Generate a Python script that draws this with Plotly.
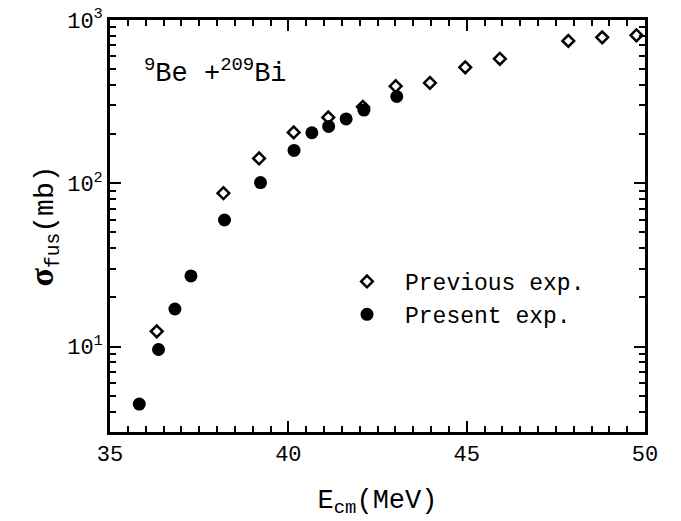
import plotly.graph_objects as go
import numpy as np

# Data
prev_E = [36.31, 38.18, 39.18, 40.15, 41.12, 42.09, 43.01, 43.97, 44.96, 45.93, 47.85, 48.80, 49.76]
prev_sigma = [12.4, 87, 142, 205, 253, 294, 393, 412, 513, 579, 745, 783, 806]

pres_E = [35.82, 36.36, 36.82, 37.27, 38.21, 39.22, 40.16, 40.66, 41.13, 41.62, 42.12, 43.04]
pres_sigma = [4.45, 9.6, 17.0, 27.1, 59.6, 101, 159, 204, 223, 248, 281, 340]

x_ticks = [35, 40, 45, 50]
x_ticklabels = ["35", "40", "45", "50"]
y_ticks = [10, 100, 1000]
y_ticklabels = ["10<sup>1</sup>", "10<sup>2</sup>", "10<sup>3</sup>"]

FONT = "Liberation Mono, Courier New, monospace"

fig = go.Figure()
fig.add_trace(go.Scatter(
    x=prev_E, y=prev_sigma, mode="markers", name="Previous exp.",
    marker=dict(symbol="diamond-open", size=9, color="black", line=dict(width=2.5, color="black")),
))
fig.add_trace(go.Scatter(
    x=pres_E, y=pres_sigma, mode="markers", name="Present exp.",
    marker=dict(symbol="circle", size=13, color="black"),
))

x_minor = [v for v in np.arange(35, 50.01, 0.5) if v not in x_ticks]
y_minor = [m * 10 ** d for d in range(0, 3) for m in range(2, 10) if 3 <= m * 10 ** d < 1000]

axis_common = dict(
    showline=True, linecolor="black", linewidth=2.5, mirror="ticks",
    ticks="inside", ticklen=11, tickwidth=2, tickcolor="black",
    showgrid=False, zeroline=False, automargin=False, ticklabeloverflow="allow",
    tickfont=dict(family=FONT, size=22, color="black"),
)

fig.update_layout(
    template="none",
    width=681, height=521,
    margin=dict(l=110, r=36, t=20, b=89),
    paper_bgcolor="white", plot_bgcolor="white",
    font=dict(family=FONT, color="black"),
    xaxis=dict(
        range=[35, 50], tickvals=x_ticks, ticktext=x_ticklabels,
        minor=dict(tickvals=x_minor, ticks="inside", ticklen=6, tickwidth=2, tickcolor="black"),
        title=dict(text="E<sub>cm</sub>(MeV)", font=dict(family=FONT, size=27, color="black"), standoff=22),
        **axis_common,
    ),
    yaxis=dict(
        type="log", range=[np.log10(3), 3], tickvals=y_ticks, ticktext=y_ticklabels,
        minor=dict(tickvals=y_minor, ticks="inside", ticklen=6, tickwidth=2, tickcolor="black"),
        title=dict(
            text="<span style='font-family:Liberation Serif;font-weight:bold;font-size:34px'>σ</span><sub>fus</sub>(mb)",
            font=dict(family=FONT, size=28, color="black"), standoff=6,
        ),
        **axis_common,
    ),
    showlegend=True,
    legend=dict(
        x=(329 - 110) / 535, y=(432 - 260) / 412, xanchor="left", yanchor="top",
        bgcolor="rgba(0,0,0,0)", borderwidth=0, itemwidth=66,
        font=dict(family=FONT, size=23, color="black"),
    ),
    annotations=[dict(
        x=0.06, y=0.875, xref="paper", yref="paper", xanchor="left", yanchor="middle",
        text="<sup>9</sup>Be +<sup>209</sup>Bi", showarrow=False,
        font=dict(family=FONT, size=27, color="black"),
    )],
)

fig.write_html(
    "out.html",
    config={"displayModeBar": False},
    post_script="document.body.style.margin='0';document.body.style.overflow='hidden';",
)
